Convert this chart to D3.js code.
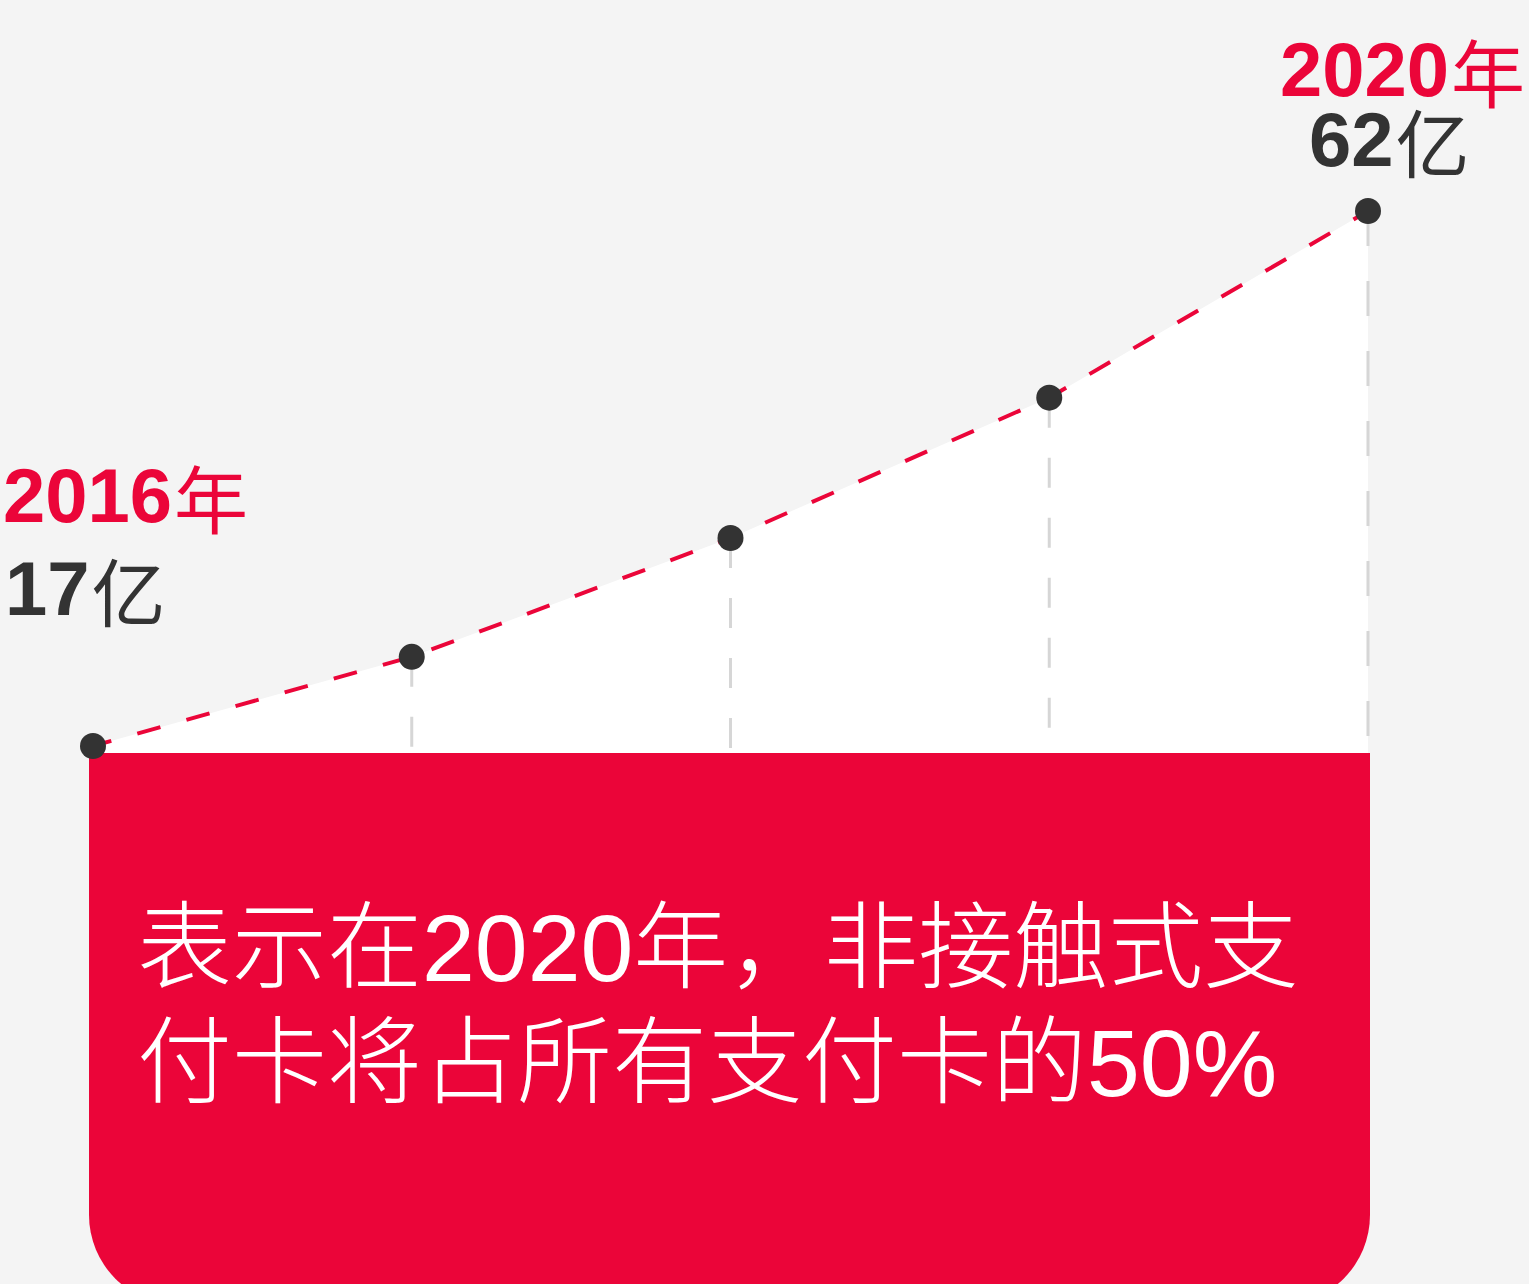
<!DOCTYPE html>
<html>
<head>
<meta charset="utf-8">
<script src="https://cdn.jsdelivr.net/npm/d3@7"></script>
<style>
  html, body { margin: 0; padding: 0; background: #f4f4f4; }
  svg { display: block; }
</style>
</head>
<body>
<svg id="chart" width="1529" height="1284"></svg>
<script>
// ---- data ----
const years = ["2016", "2017", "2018", "2019", "2020"];
const values = [17, 24.5, 34.5, 46.3, 62];           // 亿张
const startLabel = { year: "2016", yearUnit: "年", value: "17", valueUnit: "亿" };
const endLabel = { year: "2020", yearUnit: "年", value: "62", valueUnit: "亿" };
const noteLines = ["表示在2020年，非接触式支", "付卡将占所有支付卡的50%"];

// ---- setup ----
const W = 1529, H = 1284;
const RED = "#eb0539", DARK = "#333333";
const svg = d3.select("#chart");
svg.append("rect").attr("width", W).attr("height", H).attr("fill", "#f4f4f4");

const x = d3.scalePoint().domain(years).range([93, 1368]);
const y = d3.scaleLinear().domain([17, 62]).range([746, 211]);
const baseY = 753;
const data = years.map((yr, i) => ({ yr, v: values[i] }));

// white area under line
const area = d3.area().x(d => x(d.yr)).y0(baseY).y1(d => y(d.v));
svg.append("path").datum(data).attr("d", area).attr("fill", "#ffffff");

// gray dashed verticals
svg.selectAll("line.guide").data(data.slice(1)).join("line")
  .attr("class", "guide")
  .attr("x1", d => x(d.yr)).attr("x2", d => x(d.yr))
  .attr("y1", d => y(d.v)).attr("y2", baseY)
  .attr("stroke", "#d6d6d6").attr("stroke-width", 3)
  .attr("stroke-dasharray", (d, i) => i === 3 ? "35,35" : "30,30");

// red box with rounded bottom corners
const bx0 = 89, bx1 = 1370, by0 = baseY, by1 = 1305, r = 90;
svg.append("path")
  .attr("d", `M${bx0},${by0} H${bx1} V${by1 - r} A${r},${r} 0 0 1 ${bx1 - r},${by1} H${bx0 + r} A${r},${r} 0 0 1 ${bx0},${by1 - r} Z`)
  .attr("fill", RED);

// red dashed line
const line = d3.line().x(d => x(d.yr)).y(d => y(d.v));
svg.append("path").datum(data).attr("d", line)
  .attr("fill", "none").attr("stroke", RED).attr("stroke-width", 4)
  .attr("stroke-dasharray", "24,27").attr("stroke-dashoffset", 5);

// dots
svg.selectAll("circle.dot").data(data).join("circle")
  .attr("class", "dot")
  .attr("cx", d => x(d.yr)).attr("cy", d => y(d.v)).attr("r", 13)
  .attr("fill", DARK);

// labels
function label(xPos, yPos, num, unit, color) {
  const t = svg.append("text").attr("x", xPos).attr("y", yPos).attr("fill", color);
  t.append("tspan").text(num)
    .attr("font-family", "'Liberation Sans', Arial, sans-serif")
    .attr("font-weight", 700).attr("font-size", 76);
  t.append("tspan").text(unit)
    .attr("font-family", "'Noto Sans CJK SC', sans-serif")
    .attr("font-weight", 400).attr("font-size", 74).attr("dx", 2).attr("dy", 6);
}
label(3, 522, startLabel.year, startLabel.yearUnit, RED);
label(5, 615, startLabel.value, startLabel.valueUnit, DARK);
label(1280, 96, endLabel.year, endLabel.yearUnit, RED);
label(1309, 166, endLabel.value, endLabel.valueUnit, DARK);

// note text inside box
svg.selectAll("text.note").data(noteLines).join("text")
  .attr("class", "note")
  .attr("x", 137).attr("y", (d, i) => 981 + i * 115)
  .attr("fill", "#ffffff")
  .attr("font-family", "'Liberation Sans', 'Noto Sans CJK SC', sans-serif")
  .attr("font-weight", 300)
  .attr("font-size", 95)
  .text(d => d);
</script>
</body>
</html>
